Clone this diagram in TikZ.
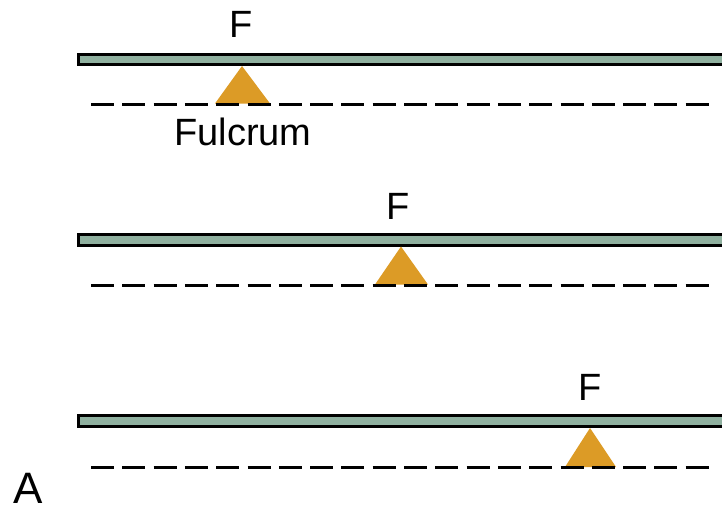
\documentclass[tikz,border=0pt]{standalone}
\usepackage{fontspec}
\setmainfont{Liberation Sans}
\definecolor{beamgreen}{RGB}{143,176,159}
\definecolor{fulcrumgold}{RGB}{220,155,38}
\begin{document}
\begin{tikzpicture}[x=1pt,y=-1pt]
\tikzstyle{beam}=[draw=black, line width=3pt, fill=beamgreen]
\tikzstyle{fulcrum}=[fill=fulcrumgold]
\tikzstyle{level}=[line width=3pt, dash pattern=on 23pt off 8.3pt]
\tikzstyle{lbl}=[inner sep=0, font=\fontsize{38}{40}\selectfont]
\useasboundingbox (0,0) rectangle (722,511);
\clip (0,0) rectangle (722,511);
% top lever
\draw[beam](78,54.5) rectangle (740,64.5);
\fill[fulcrum](242,66)--(270,103.5)--(215,103.5)--cycle;
\draw[level](91,104)--(709,104);
\node[lbl] (f1) at(241,24){F};
\node[lbl] (fulcrum) at(243,132){Fulcrum};
% middle lever
\draw[beam](78,234) rectangle (740,245);
\fill[fulcrum](401,246.5)--(428,284.5)--(375,284.5)--cycle;
\draw[level](91,285)--(709,285);
\node[lbl] (f2) at(398,206){F};
% bottom lever
\draw[beam](78,415.5) rectangle (740,426.5);
\fill[fulcrum](590,428)--(616,467)--(565,467)--cycle;
\draw[level](91,467)--(709,467);
\node[lbl] (f3) at(590,387){F};
\node[inner sep=0, font=\fontsize{44}{46}\selectfont] (a) at(28,488){A};
\end{tikzpicture}
\end{document}
